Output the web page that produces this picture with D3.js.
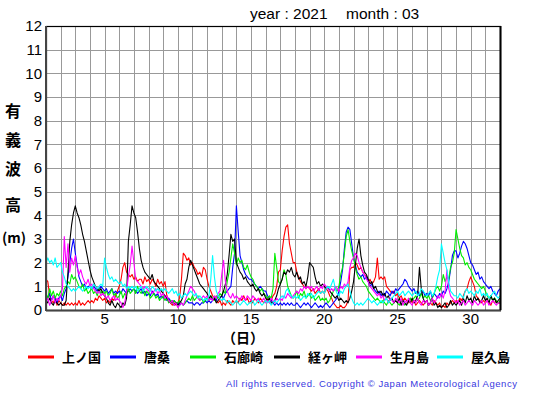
<!DOCTYPE html>
<html>
<head>
<meta charset="utf-8">
<script src="https://cdnjs.cloudflare.com/ajax/libs/d3/7.8.5/d3.min.js"></script>
<style>
  html, body { margin: 0; padding: 0; background: #fff; }
  svg { display: block; }
</style>
</head>
<body>
<div id="chart"></div>
<script>
// 3-hourly significant wave height (m), March 2021, 8 values per day + closing value
const kaminokuni = [
  1.3,1.2,0.6,0.4,0.3,0.5,0.2,0.4, 0.3,0.2,0.3,0.2,0.3,0.2,0.3,0.2, 0.3,0.2,0.4,0.2,0.3,0.2,0.3,0.4,
  0.3,0.4,0.3,0.5,0.4,0.6,0.5,0.4, 0.5,0.3,0.4,0.3,0.5,0.4,0.6,0.8, 1.0,1.3,1.8,2.0,1.6,1.5,1.4,1.5,
  1.3,1.4,1.2,1.3,1.3,1.1,1.4,1.2, 1.3,1.1,1.3,1.2,1.0,1.3,1.1,1.2, 1.0,1.2,0.6,0.4,0.3,0.2,0.3,0.2,
  0.3,0.5,1.3,2.4,2.3,2.1,2.2,1.9, 2.0,1.8,1.7,1.5,1.6,1.4,1.8,1.7, 1.3,1.0,0.8,0.6,0.5,0.4,0.3,0.4,
  0.2,0.3,0.2,0.4,0.3,0.2,0.4,0.3, 0.4,0.3,0.5,0.4,0.6,0.4,0.5,0.3, 0.4,0.3,0.5,0.4,0.3,0.5,0.4,0.3,
  0.4,0.5,0.3,0.4,0.6,0.7,1.0,1.6, 1.7,2.5,3.1,3.5,3.6,2.8,2.4,2.0, 2.0,1.6,1.4,1.2,1.1,1.0,0.9,1.0,
  0.9,0.8,0.9,0.7,0.8,0.9,0.7,0.8, 0.7,0.9,0.8,0.6,0.5,0.3,0.2,0.1, 0.1,0.2,0.1,0.1,0.2,0.4,1.7,1.8,
  1.8,2.0,1.9,1.7,1.8,1.6,1.5,1.4, 1.2,1.3,1.1,1.2,1.4,2.2,1.3,1.4, 1.3,1.4,1.0,0.9,0.8,0.7,0.8,0.6,
  0.7,0.5,0.6,0.4,0.5,0.4,0.3,0.5, 0.3,0.4,0.2,0.3,0.4,0.3,0.2,0.3, 0.4,0.2,0.3,0.2,0.4,0.3,0.2,0.3,
  0.1,0.2,0.1,0.3,0.2,0.3,0.4,0.3, 0.4,0.3,0.5,0.4,0.6,0.8,0.9,1.2, 1.4,1.2,1.0,0.6,0.5,0.4,0.3,0.4,
  0.3,0.4,0.3,0.2,0.4,0.3,0.4,0.3, 0.3
];
const karakuwa = [
  0.6,0.5,0.7,0.4,0.6,0.5,0.3,0.5, 0.6,0.4,0.7,0.9,1.4,2.0,2.6,3.0, 2.4,1.9,1.4,1.2,1.0,1.1,0.9,1.0,
  1.0,0.9,1.0,0.9,0.8,0.9,1.0,0.9, 0.8,0.9,0.7,0.8,0.9,0.7,0.8,0.7, 0.8,0.7,0.9,0.8,0.7,0.8,0.9,0.8,
  0.9,0.8,0.7,0.8,0.9,0.7,0.8,0.6, 0.7,0.6,0.8,0.7,0.6,0.7,0.5,0.6, 0.5,0.6,0.4,0.5,0.4,0.3,0.4,0.3,
  0.3,0.2,0.3,0.2,0.3,0.4,0.3,0.3, 0.3,0.2,0.3,0.3,0.2,0.3,0.3,0.4, 0.3,0.4,0.3,0.4,0.5,0.4,0.6,0.5,
  0.6,0.5,0.7,0.8,0.9,1.0,1.8,2.4, 4.4,3.3,2.3,2.0,1.7,1.5,1.4,1.3, 1.3,1.2,1.1,1.0,0.9,1.0,0.9,0.8,
  0.8,0.6,0.5,0.4,0.3,0.2,0.3,0.2, 0.3,0.2,0.3,0.2,0.3,0.2,0.3,0.2, 0.2,0.3,0.2,0.1,0.2,0.3,0.2,0.3,
  0.2,0.1,0.2,0.3,0.2,0.1,0.2,0.1, 0.2,0.3,0.2,0.1,0.2,0.3,0.4,0.5, 0.8,1.2,1.7,2.6,3.3,3.5,3.4,2.8,
  2.2,1.9,1.6,1.5,1.4,1.5,1.3,1.4, 1.2,1.0,1.1,0.9,0.8,0.7,0.8,0.6, 0.7,0.6,0.8,0.7,0.6,0.8,0.7,0.9,
  0.8,0.9,1.0,1.1,1.3,1.2,1.0,0.9, 0.8,0.9,0.7,0.8,0.6,0.7,0.8,0.6, 0.7,0.6,0.8,0.5,0.7,0.6,0.5,0.7,
  0.6,0.8,0.7,0.9,1.2,1.7,2.3,2.5, 2.5,2.2,2.4,2.7,2.9,2.8,2.6,2.3, 2.0,1.9,1.7,1.5,1.6,1.3,1.4,1.2,
  1.1,1.0,0.9,1.0,0.8,0.7,0.6,0.8, 0.9
];
const irozaki = [
  0.7,0.5,0.9,0.6,0.8,0.5,0.7,0.6, 0.8,0.6,0.9,1.0,1.2,1.1,1.5,1.3, 1.4,1.2,1.0,0.9,1.1,0.8,0.9,0.7,
  0.8,0.9,0.7,0.8,0.6,0.9,0.7,0.8, 0.7,0.8,0.6,0.7,0.9,0.6,0.7,0.5, 0.6,0.8,0.5,0.7,0.6,0.9,0.7,0.8,
  0.9,0.7,1.0,0.8,0.7,0.9,0.6,0.8, 0.7,0.5,0.6,0.7,0.5,0.6,0.4,0.5, 0.6,0.4,0.5,0.3,0.4,0.3,0.4,0.3,
  0.3,0.4,0.3,0.2,0.3,0.4,0.5,0.4, 0.6,0.4,0.5,0.6,0.4,0.5,0.3,0.4, 0.5,0.4,0.6,0.5,0.4,0.6,0.5,0.7,
  0.6,0.8,0.7,1.2,1.6,2.2,2.8,2.4, 1.9,2.2,2.0,2.1,1.8,1.7,1.9,1.6, 1.4,1.3,1.1,1.0,0.9,0.8,0.9,0.7,
  0.6,0.5,0.6,0.5,0.9,2.4,1.8,1.2, 1.1,1.3,1.7,1.5,1.0,0.8,0.6,0.5, 0.6,0.8,0.5,0.7,0.6,0.8,0.5,0.6,
  0.7,0.5,0.6,0.4,0.5,0.6,0.4,0.5, 0.4,0.5,0.3,0.4,0.6,0.8,0.9,0.8, 1.0,1.5,1.8,2.4,3.1,3.4,2.9,2.5,
  2.2,1.8,1.5,1.3,1.4,1.2,1.1,1.0, 0.8,0.7,0.6,0.5,0.4,0.5,0.4,0.3, 0.4,0.3,0.2,0.4,0.3,0.2,0.3,0.4,
  0.3,0.2,0.4,0.3,0.2,0.3,0.4,0.5, 0.4,0.5,0.6,0.4,0.5,0.7,0.5,0.6, 0.5,0.6,0.4,0.5,0.7,0.9,1.0,0.8,
  1.0,1.5,1.2,1.4,1.3,1.8,2.0,2.4, 3.4,3.0,2.6,2.3,2.2,1.9,2.0,1.8, 1.7,1.5,1.3,1.2,1.1,1.0,0.9,1.0,
  0.8,0.6,0.5,0.6,0.4,0.5,0.4,0.3, 0.4
];
const kyogamisaki = [
  0.4,0.3,0.5,0.3,0.2,0.4,0.3,0.2, 0.3,0.2,0.2,0.4,1.6,2.9,3.6,4.1, 4.4,4.1,3.9,3.6,3.2,2.9,2.5,2.1,
  1.7,1.4,1.2,1.0,0.9,0.8,0.9,0.7, 0.6,0.5,0.3,0.2,0.4,0.2,0.1,0.3, 0.2,0.1,0.3,0.2,0.5,2.9,3.6,4.4,
  4.1,3.9,3.3,2.6,2.1,1.8,1.6,1.5, 1.4,1.3,1.5,1.2,1.1,1.0,0.9,0.8, 0.7,0.6,0.5,0.4,0.3,0.4,0.2,0.3,
  0.2,0.3,0.4,0.6,1.1,1.3,1.8,2.1, 1.9,1.7,1.5,1.3,1.1,1.0,0.9,0.8, 0.7,0.5,0.6,0.4,0.5,0.3,0.4,0.5,
  0.6,0.8,1.1,1.5,2.3,3.2,2.9,3.0, 2.0,1.8,1.6,1.5,1.3,1.4,1.2,1.1, 1.0,1.1,0.9,0.8,0.9,0.7,0.6,0.7,
  0.5,0.4,0.5,0.3,0.3,0.4,0.6,0.9, 1.1,1.3,1.6,1.5,1.7,1.6,1.8,1.5, 1.4,1.6,1.3,1.4,1.1,1.2,1.0,1.4,
  2.0,1.9,1.8,1.4,1.1,1.2,1.0,1.1, 1.0,0.9,1.0,0.8,0.7,0.6,0.5,0.6, 0.4,0.5,0.4,0.3,0.4,0.3,0.5,0.8,
  1.2,1.9,2.6,3.0,2.3,1.9,1.6,1.5, 1.3,1.1,1.2,0.9,1.0,0.8,0.7,0.8, 0.6,0.7,0.5,0.6,0.4,0.5,0.3,0.4,
  0.3,0.5,0.2,0.4,0.3,0.2,0.4,0.3, 0.5,0.3,0.4,0.6,1.8,0.9,0.5,0.3, 0.4,0.2,0.3,0.5,0.2,0.3,0.1,0.2,
  0.1,0.2,0.3,0.1,0.2,0.4,0.2,0.3, 0.2,0.3,0.4,0.2,0.5,0.3,0.6,0.4, 0.5,0.3,0.6,0.4,0.5,0.3,0.4,0.6,
  0.4,0.5,0.3,0.6,0.4,0.5,0.3,0.4, 0.5
];
const ikitsukishima = [
  0.3,0.5,0.2,0.4,0.6,0.3,0.5,0.4, 0.6,0.9,3.1,1.8,2.8,1.6,2.2,1.9, 2.3,1.8,1.5,1.7,1.4,1.2,1.1,1.3,
  1.0,1.1,0.9,0.8,0.7,0.8,0.6,0.7, 0.6,0.5,0.6,0.4,0.5,0.6,0.4,0.5, 0.4,0.3,0.1,0.3,0.8,1.4,1.9,2.7,
  2.0,1.3,1.2,1.1,1.0,0.9,1.0,0.9, 0.8,0.9,0.7,0.8,0.9,0.7,0.8,0.6, 0.7,0.5,0.6,0.4,0.3,0.4,0.2,0.3,
  0.1,0.2,0.3,0.2,0.4,0.6,0.8,1.0, 0.9,0.8,0.6,0.5,0.4,0.5,0.6,0.5, 0.6,0.4,0.5,0.4,0.6,0.5,0.7,0.8,
  1.5,2.1,1.2,0.8,0.6,0.5,0.7,0.5, 0.6,0.5,0.4,0.6,0.5,0.4,0.6,0.5, 0.4,0.6,0.5,0.4,0.5,0.3,0.4,0.5,
  0.3,0.4,0.3,0.5,0.4,0.3,0.5,0.4, 0.5,0.4,0.6,0.5,0.7,0.6,0.5,0.6, 0.7,0.8,0.7,0.9,0.8,1.0,0.9,1.0,
  0.9,1.0,0.8,0.9,1.0,0.8,1.0,0.9, 1.1,1.0,0.9,0.8,0.9,0.8,1.0,0.9, 0.8,1.0,0.9,1.1,1.0,1.2,1.8,2.1,
  2.2,2.4,2.3,2.0,1.8,1.6,1.5,1.3, 1.2,1.0,0.9,0.8,0.7,0.6,0.7,0.5, 0.6,0.4,0.5,0.3,0.5,0.4,0.3,0.5,
  0.4,0.3,0.5,0.2,0.4,0.3,0.5,0.3, 0.2,0.4,0.3,0.5,0.3,0.2,0.4,0.3, 0.4,0.2,0.3,0.5,0.3,0.4,0.6,0.5,
  0.7,0.5,0.8,1.7,0.9,0.6,0.5,0.4, 0.3,0.4,0.2,0.3,0.4,0.2,0.3,0.4, 0.3,0.2,0.4,0.3,0.2,0.3,0.4,0.2,
  0.3,0.4,0.2,0.3,0.4,0.3,0.2,0.3, 0.3
];
const yakushima = [
  2.0,2.2,2.0,2.1,1.9,2.2,1.8,1.9, 2.0,1.6,1.4,1.1,1.0,0.9,0.8,0.9, 0.8,0.9,1.0,0.9,0.8,0.9,1.0,0.9,
  1.0,0.9,1.1,1.0,0.9,1.0,1.1,1.0, 2.2,1.8,1.5,1.3,1.4,1.2,1.3,1.2, 1.1,1.2,1.0,1.1,0.9,1.0,0.9,1.0,
  0.9,1.0,0.8,0.9,1.0,0.8,0.9,1.0, 0.9,0.8,1.0,0.9,0.8,0.9,0.8,0.9, 0.8,0.9,0.8,0.7,0.8,0.9,0.7,0.8,
  0.6,0.7,0.5,0.6,0.7,0.6,0.7,0.8, 0.7,0.6,0.7,0.5,0.6,0.5,0.4,0.5, 0.4,0.6,1.3,2.3,1.4,0.8,0.6,0.5,
  0.4,0.5,0.4,0.3,0.4,0.3,0.2,0.3, 0.4,0.3,0.2,0.3,0.4,0.3,0.2,0.3, 0.3,0.4,0.2,0.3,0.4,0.3,0.2,0.3,
  0.4,0.3,0.4,0.2,0.3,0.4,0.3,0.4, 0.5,0.6,0.5,0.8,0.9,0.7,0.6,0.5, 0.6,0.5,0.6,0.4,0.5,0.6,0.5,0.7,
  0.6,0.7,0.5,0.6,0.7,0.8,0.7,0.8, 0.7,0.9,1.0,0.9,1.1,1.3,0.9,0.7, 0.6,0.8,0.7,0.9,1.0,1.1,0.8,0.5,
  0.3,0.2,0.3,0.2,0.3,0.2,0.3,0.4, 0.5,0.4,0.3,0.4,0.3,0.2,0.3,0.4, 0.3,0.4,0.5,0.3,0.4,0.5,0.6,0.7,
  0.8,0.6,0.7,0.8,0.6,0.7,0.8,0.7, 0.6,0.7,0.8,0.6,0.7,0.9,0.8,0.7, 0.6,0.7,0.8,0.6,0.7,1.0,1.4,1.7,
  2.8,2.4,2.0,1.7,1.2,0.8,0.7,0.6, 0.6,0.5,0.7,0.6,0.5,0.8,0.9,0.7, 0.8,0.7,0.6,0.8,0.7,0.9,0.6,0.7,
  0.6,0.7,0.5,0.6,0.7,0.8,0.6,0.5, 0.6
];

const stations = ['上ノ国', '唐桑', '石廊崎', '経ヶ岬', '生月島', '屋久島'];
const seriesValues = [kaminokuni, karakuwa, irozaki, kyogamisaki, ikitsukishima, yakushima];
const colors = ['#ff0000', '#0000ff', '#00ee00', '#000000', '#ff00ff', '#00ffff'];
const xTicks = [5, 10, 15, 20, 25, 30];
const yTicks = [0, 1, 2, 3, 4, 5, 6, 7, 8, 9, 10, 11, 12];
const yLabelChars = ['有', '義', '波', '高'];
const stepsPerDay = 8;

const width = 555;
const height = 395;
const plot = { left: 46, right: 500, top: 26, bottom: 310 };

const xScale = d3.scaleLinear().domain([1, 32]).range([plot.left, plot.right]);
const yScale = d3.scaleLinear().domain([0, 12]).range([plot.bottom, plot.top]);

const svg = d3.select('#chart').append('svg')
  .attr('width', width)
  .attr('height', height)
  .style('font-family', '"Liberation Sans", Arial, sans-serif');

/* grid */
const grid = svg.append('g').attr('class', 'grid')
  .attr('stroke', '#999')
  .attr('stroke-width', 1)
  .attr('shape-rendering', 'crispEdges');

grid.selectAll('.vline')
  .data(d3.range(2, 32)).enter()
  .append('line')
  .attr('x1', d => Math.round(xScale(d)) + 0.5)
  .attr('x2', d => Math.round(xScale(d)) + 0.5)
  .attr('y1', plot.top)
  .attr('y2', plot.bottom);

grid.selectAll('.hline')
  .data(d3.range(1, 12)).enter()
  .append('line')
  .attr('x1', plot.left)
  .attr('x2', plot.right)
  .attr('y1', d => Math.round(yScale(d)) + 0.5)
  .attr('y2', d => Math.round(yScale(d)) + 0.5);

/* lines */
const line = d3.line()
  .x((d, i) => xScale(1 + i / stepsPerDay))
  .y(d => yScale(d));

svg.append('defs').append('clipPath').attr('id', 'plotClip')
  .append('rect')
  .attr('x', plot.left).attr('y', plot.top)
  .attr('width', plot.right - plot.left).attr('height', plot.bottom - plot.top);

svg.append('g').attr('class', 'lines')
  .attr('clip-path', 'url(#plotClip)')
  .selectAll('path')
  .data(seriesValues).enter()
  .append('path')
  .attr('d', d => line(d))
  .attr('fill', 'none')
  .attr('stroke', (d, i) => colors[i])
  .attr('stroke-width', 1.1)
  .attr('stroke-linejoin', 'round');

/* frame */
svg.append('rect')
  .attr('x', plot.left + 0.5).attr('y', plot.top + 0.5)
  .attr('width', plot.right - plot.left).attr('height', plot.bottom - plot.top)
  .attr('fill', 'none')
  .attr('stroke', '#000')
  .attr('stroke-width', 1.2);

svg.append('line')
  .attr('x1', plot.left).attr('x2', plot.left)
  .attr('y1', plot.top).attr('y2', plot.bottom + 1)
  .attr('stroke', '#444').attr('stroke-width', 2);
svg.append('line')
  .attr('x1', plot.left).attr('x2', plot.right + 1)
  .attr('y1', plot.bottom + 0.5).attr('y2', plot.bottom + 0.5)
  .attr('stroke', '#444').attr('stroke-width', 2);
svg.append('line')
  .attr('x1', plot.right + 0.5).attr('x2', plot.right + 0.5)
  .attr('y1', plot.top).attr('y2', plot.bottom)
  .attr('stroke', '#000').attr('stroke-width', 2);

/* axes labels */
svg.append('g').selectAll('text')
  .data(yTicks).enter()
  .append('text')
  .attr('x', 42)
  .attr('y', d => yScale(d))
  .attr('dy', '0.36em')
  .attr('text-anchor', 'end')
  .style('font-size', '15px')
  .text(d => d);

svg.append('g').selectAll('text')
  .data(xTicks).enter()
  .append('text')
  .attr('x', d => xScale(d))
  .attr('y', 324)
  .attr('text-anchor', 'middle')
  .style('font-size', '15px')
  .text(d => d);

svg.append('text')
  .attr('x', 250)
  .attr('y', 19)
  .style('font-size', '15.5px')
  .text('year : 2021');
svg.append('text')
  .attr('x', 346)
  .attr('y', 19)
  .style('font-size', '15.5px')
  .text('month : 03');

const yLabelPos = [111, 140, 169, 205];
svg.append('g').selectAll('text')
  .data(yLabelChars).enter()
  .append('text')
  .attr('x', 13)
  .attr('y', (d, i) => yLabelPos[i])
  .attr('dy', '0.36em')
  .attr('text-anchor', 'middle')
  .style('font-family', '"Noto Sans CJK JP", sans-serif')
  .style('font-weight', 'bold')
  .style('font-size', '16px')
  .text(d => d);

svg.append('text')
  .attr('x', 2)
  .attr('y', 238)
  .attr('dy', '0.36em')
  .style('font-family', '"Noto Sans CJK JP", sans-serif')
  .style('font-weight', 'bold')
  .style('font-size', '14px')
  .text('(m)');

svg.append('text')
  .attr('x', 243)
  .attr('y', 338)
  .attr('dy', '0.36em')
  .attr('text-anchor', 'middle')
  .style('font-family', '"Noto Sans CJK JP", sans-serif')
  .style('font-weight', 'bold')
  .style('font-size', '14px')
  .text('（日）');

/* legend */
const legendX = [28, 110, 190, 274, 356, 437];
const legend = svg.append('g').attr('class', 'legend');
legend.selectAll('line')
  .data(stations).enter()
  .append('line')
  .attr('x1', (d, i) => legendX[i])
  .attr('x2', (d, i) => legendX[i] + 26)
  .attr('y1', 357)
  .attr('y2', 357)
  .attr('stroke', (d, i) => colors[i])
  .attr('stroke-width', 3);
legend.selectAll('text')
  .data(stations).enter()
  .append('text')
  .attr('x', (d, i) => legendX[i] + 34)
  .attr('y', 357)
  .attr('dy', '0.36em')
  .style('font-family', '"Noto Sans CJK JP", sans-serif')
  .style('font-weight', 'bold')
  .style('font-size', '13px')
  .text(d => d);

svg.append('text')
  .attr('x', 226)
  .attr('y', 387)
  .attr('textLength', 291)
  .attr('lengthAdjust', 'spacing')
  .style('font-size', '9.5px')
  .style('fill', '#3838e0')
  .text('All rights reserved. Copyright © Japan Meteorological Agency');
</script>
</body>
</html>
